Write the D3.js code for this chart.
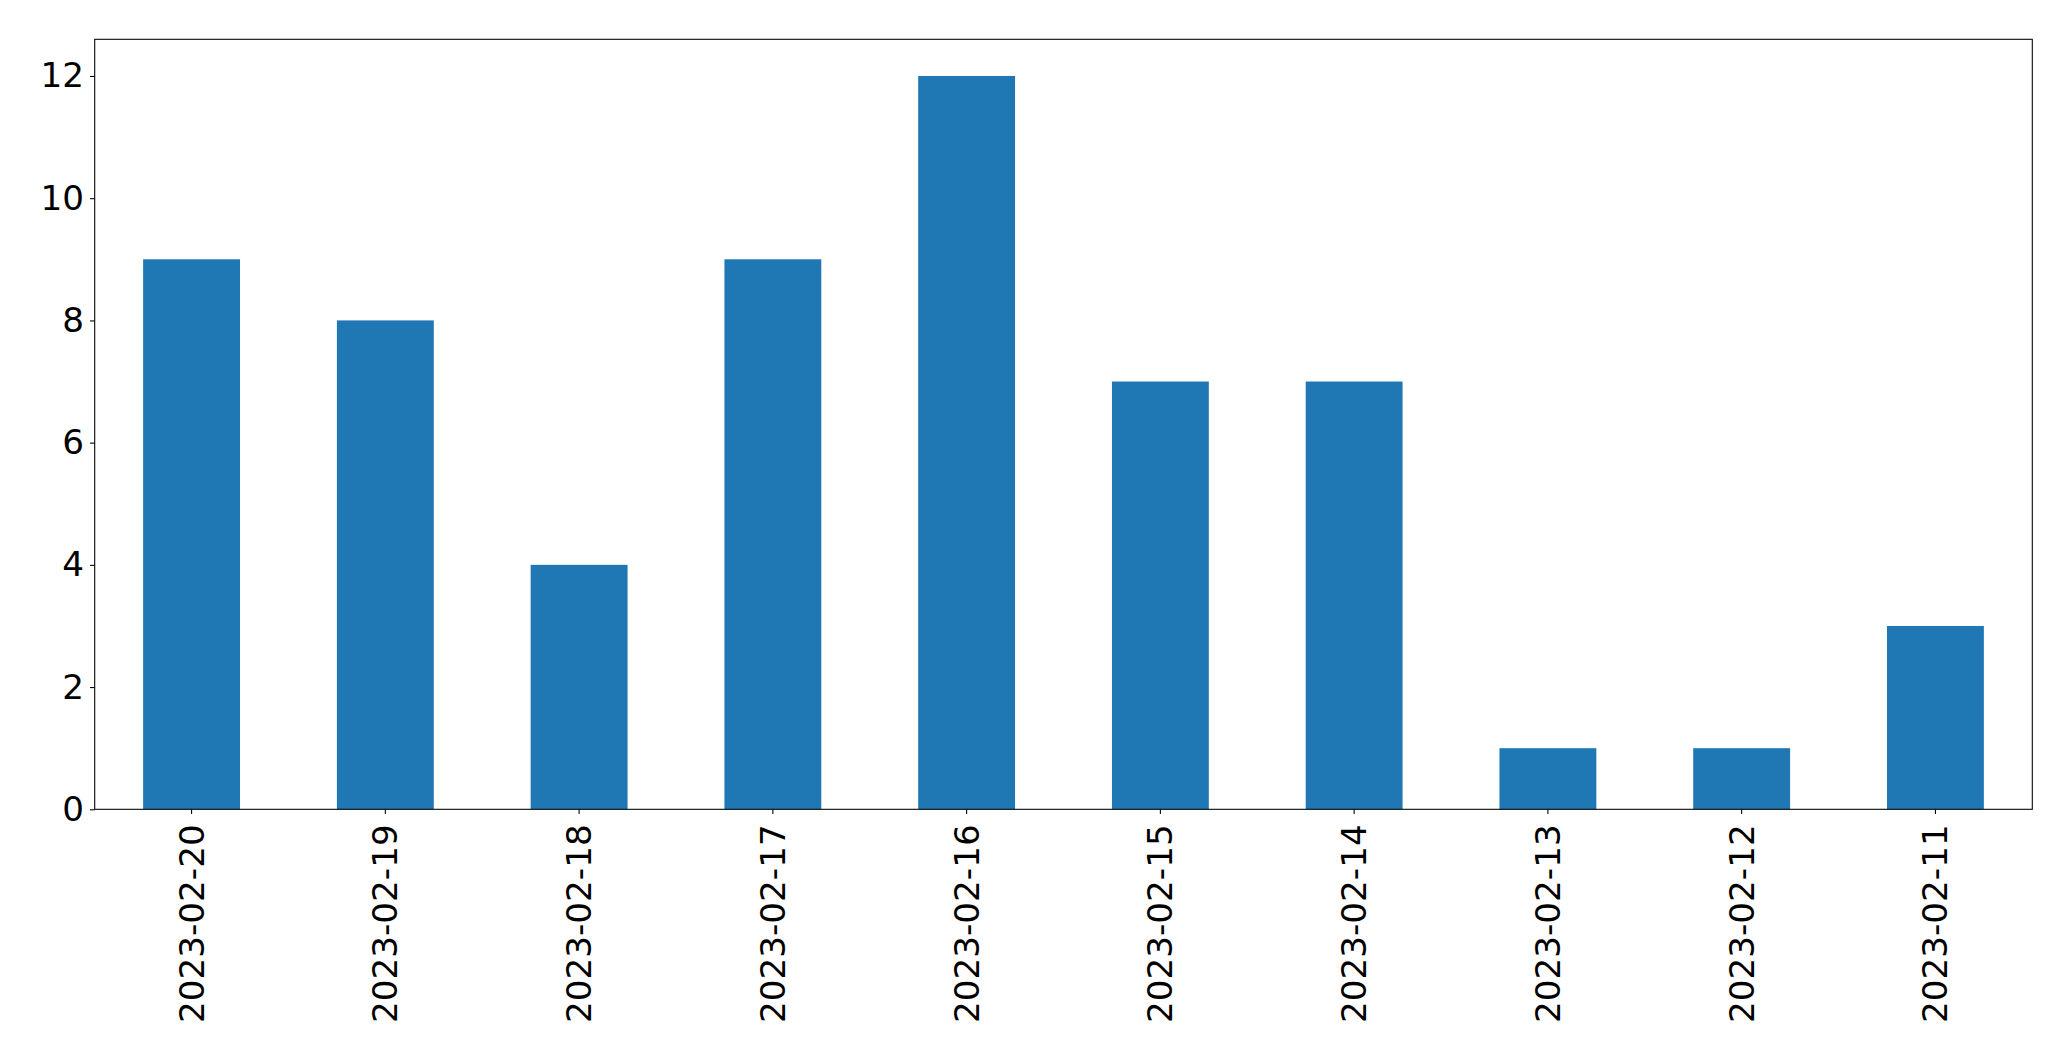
<!DOCTYPE html>
<html>
<head>
<meta charset="utf-8">
<script src="https://cdn.jsdelivr.net/npm/d3@7"></script>
<style>
  html, body { margin: 0; padding: 0; background: #fff; }
  svg { display: block; }
  text { font-family: "DejaVu Sans", sans-serif; fill: #000; }
</style>
</head>
<body>
<svg id="chart" width="2071" height="1061"></svg>
<script>
const categories = ["2023-02-20","2023-02-19","2023-02-18","2023-02-17","2023-02-16","2023-02-15","2023-02-14","2023-02-13","2023-02-12","2023-02-11"];
const values = [9, 8, 4, 9, 12, 7, 7, 1, 1, 3];
const yTicks = [0, 2, 4, 6, 8, 10, 12];

const mLeft = 94.7, mRight = 2032.3, mTop = 39.3, mBottom = 809.3;
const svg = d3.select("#chart");

const x = d3.scaleBand().domain(categories).range([mLeft, mRight]).paddingInner(0.5).paddingOuter(0.25);
const y = d3.scaleLinear().domain([0, 12.6]).range([mBottom, mTop]);

svg.append("g").selectAll("rect").data(values).join("rect")
  .attr("x", (d, i) => x(categories[i]))
  .attr("y", d => y(d))
  .attr("width", x.bandwidth())
  .attr("height", d => y(0) - y(d))
  .attr("fill", "#1f77b4");

const fs = "34.2px";
const tickLen = 4.7;

// y axis
const yAxis = svg.append("g").attr("transform", `translate(${mLeft},0)`)
  .call(d3.axisLeft(y).tickValues(yTicks).tickSize(tickLen).tickPadding(6).tickFormat(d3.format("d")));
yAxis.select(".domain").remove();
yAxis.selectAll("line").attr("stroke", "#000").attr("stroke-width", 1.07);
yAxis.selectAll("text").style("font-size", fs).attr("font-family", "DejaVu Sans");

// x axis
const xAxis = svg.append("g").attr("transform", `translate(0,${mBottom})`)
  .call(d3.axisBottom(x).tickSize(tickLen).tickPadding(0));
xAxis.select(".domain").remove();
xAxis.selectAll("line").attr("stroke", "#000").attr("stroke-width", 1.07);
xAxis.selectAll("text")
  .style("font-size", fs)
  .attr("font-family", "DejaVu Sans")
  .attr("text-anchor", "end")
  .attr("dy", null)
  .attr("dominant-baseline", "central")
  .attr("y", 0)
  .attr("transform", "translate(0,15) rotate(-90)");

// frame
svg.append("rect")
  .attr("x", mLeft).attr("y", mTop)
  .attr("width", mRight - mLeft).attr("height", mBottom - mTop)
  .attr("fill", "none").attr("stroke", "#000").attr("stroke-width", 1.07);
</script>
</body>
</html>
